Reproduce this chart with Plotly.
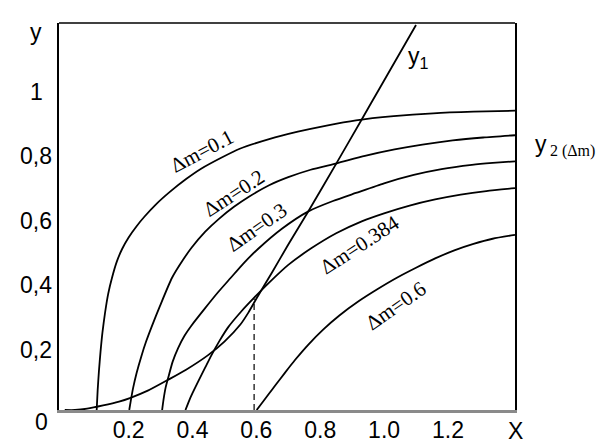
import plotly.graph_objects as go

# ---- data ----
x_d01 = [0.100, 0.103, 0.107, 0.112, 0.118, 0.126, 0.136, 0.148, 0.163, 0.180, 0.200, 0.225, 0.250,
         0.285, 0.330, 0.380, 0.427, 0.490, 0.548, 0.640, 0.730, 0.820, 0.912, 1.030, 1.154, 1.280, 1.410]
y_d01 = [0.0, 0.06, 0.12, 0.18, 0.24, 0.30, 0.36, 0.41, 0.46, 0.50, 0.535, 0.57, 0.60,
         0.637, 0.677, 0.716, 0.748, 0.782, 0.81, 0.84, 0.863, 0.882, 0.898, 0.911, 0.92, 0.925, 0.928]

x_d02 = [0.202, 0.207, 0.214, 0.225, 0.240, 0.255, 0.272, 0.298, 0.336, 0.370, 0.397, 0.440, 0.482,
         0.530, 0.578, 0.640, 0.700, 0.770, 0.852, 0.940, 1.033, 1.120, 1.215, 1.310, 1.410]
y_d02 = [0.0, 0.03, 0.068, 0.115, 0.167, 0.213, 0.258, 0.322, 0.41, 0.465, 0.503, 0.553, 0.592,
         0.63, 0.662, 0.697, 0.722, 0.745, 0.765, 0.788, 0.808, 0.823, 0.836, 0.845, 0.852]

x_d03 = [0.305, 0.309, 0.316, 0.324, 0.338, 0.355, 0.375, 0.397, 0.439, 0.480, 0.520, 0.560, 0.606,
         0.680, 0.763, 0.840, 0.912, 1.000, 1.093, 1.180, 1.275, 1.340, 1.410]
y_d03 = [0.0, 0.03, 0.07, 0.10, 0.15, 0.192, 0.23, 0.262, 0.315, 0.365, 0.41, 0.455, 0.50,
         0.562, 0.616, 0.648, 0.673, 0.703, 0.729, 0.747, 0.76, 0.766, 0.771]

x_d0384 = [0.378, 0.390, 0.400, 0.418, 0.440, 0.460, 0.485, 0.512, 0.554, 0.591, 0.640, 0.700, 0.773,
           0.850, 0.930, 1.000, 1.080, 1.160, 1.240, 1.320, 1.410]
y_d0384 = [0.0, 0.03, 0.052, 0.089, 0.132, 0.171, 0.215, 0.257, 0.307, 0.346, 0.395, 0.45, 0.502,
           0.548, 0.585, 0.61, 0.634, 0.653, 0.668, 0.679, 0.688]

x_d06 = [0.601, 0.620, 0.640, 0.659, 0.690, 0.721, 0.763, 0.810, 0.860, 0.920, 0.980, 1.040, 1.100,
         1.160, 1.220, 1.280, 1.340, 1.410]
y_d06 = [0.0, 0.025, 0.051, 0.076, 0.116, 0.155, 0.203, 0.25, 0.293, 0.337, 0.375, 0.41, 0.441,
         0.47, 0.495, 0.515, 0.531, 0.543]

x_y1 = [0.0, 0.032, 0.070, 0.120, 0.170, 0.204, 0.260, 0.324, 0.380, 0.450, 0.500, 0.550, 0.575,
        0.600, 0.650, 0.700, 0.763, 0.852, 0.930, 0.988, 1.100]
y_y1 = [0.0, 0.0, 0.004, 0.014, 0.026, 0.037, 0.06, 0.094, 0.125, 0.171, 0.212, 0.265, 0.302,
        0.345, 0.428, 0.513, 0.616, 0.767, 0.901, 1.001, 1.194]

x_dash = [0.593, 0.593]
y_dash = [0.0, 0.346]

curve_labels = ["Δm=0.1", "Δm=0.2", "Δm=0.3", "Δm=0.384", "Δm=0.6"]
label_x = [0.431, 0.531, 0.603, 0.923, 1.036]
label_y = [0.803, 0.672, 0.566, 0.512, 0.322]
label_angle = [-28, -33, -35, -33, -35]

xtick_vals = [0.2, 0.4, 0.6, 0.8, 1.0, 1.2]
xtick_text = ["0.2", "0.4", "0.6", "0.8", "1.0", "1.2"]
ytick_vals = [0.2, 0.4, 0.6, 0.8, 1.0]
ytick_text = ["0,2", "0,4", "0,6", "0,8", "1"]

SANS = "Liberation Sans, Arial, sans-serif"
SERIF = "Liberation Serif, Times New Roman, serif"

fig = go.Figure()
line_style = dict(color="black", width=1.8, shape="spline", smoothing=0.6)
for xs, ys in [(x_d01, y_d01), (x_d02, y_d02), (x_d03, y_d03), (x_d0384, y_d0384), (x_d06, y_d06), (x_y1, y_y1)]:
    fig.add_trace(go.Scatter(x=xs, y=ys, mode="lines", line=line_style, hoverinfo="skip", showlegend=False))
fig.add_trace(go.Scatter(x=x_dash, y=y_dash, mode="lines",
                         line=dict(color="black", width=1.2, dash="6px,4px"),
                         hoverinfo="skip", showlegend=False))

annotations = []
for t, lx, ly, a in zip(curve_labels, label_x, label_y, label_angle):
    annotations.append(dict(x=lx, y=ly, xref="x", yref="y", text=t, textangle=a,
                            showarrow=False, font=dict(family=SERIF, size=21, color="black")))
for v, t in zip(ytick_vals, ytick_text):
    annotations.append(dict(x=-0.05, y=v, xref="paper", yref="y", text=t, showarrow=False,
                            xanchor="center", yanchor="middle", yshift=-4,
                            font=dict(family=SANS, size=23, color="black")))
annotations += [
    dict(x=-0.05, y=0.977, xref="paper", yref="paper", text="y", showarrow=False,
         xanchor="center", yanchor="middle", font=dict(family=SANS, size=23, color="black")),
    dict(x=-0.039, y=-0.030, xref="paper", yref="paper", text="0", showarrow=False,
         xanchor="center", yanchor="middle", font=dict(family=SANS, size=23, color="black")),
    dict(x=1.0, y=-0.053, xref="paper", yref="paper", text="X", showarrow=False,
         xanchor="center", yanchor="middle", font=dict(family=SANS, size=23, color="black")),
    dict(x=0.762, y=0.91, xref="paper", yref="paper", text="y<sub>1</sub>", showarrow=False,
         xanchor="left", yanchor="middle", font=dict(family=SANS, size=23, color="black")),
    dict(x=1.040, y=0.688, xref="paper", yref="paper", text="y", showarrow=False,
         xanchor="left", yanchor="middle", font=dict(family=SANS, size=23, color="black")),
    dict(x=1.073, y=0.669, xref="paper", yref="paper", text="2 (Δm)", showarrow=False,
         xanchor="left", yanchor="middle", font=dict(family=SERIF, size=16, color="black")),
]

fig.update_layout(
    width=607, height=442,
    margin=dict(l=51, r=100, t=15, b=40),
    paper_bgcolor="white", plot_bgcolor="white",
    annotations=annotations,
    shapes=[dict(type="line", xref="paper", yref="paper", x0=0, x1=1, y0=1, y1=1,
                 line=dict(color="black", width=1.5))],
    xaxis=dict(range=[-0.018, 1.41], showgrid=False, zeroline=False, automargin=False,
               showline=True, linecolor="#8a8a8a", linewidth=3,
               tickvals=xtick_vals, ticktext=xtick_text, ticks="", ticklabelstandoff=-3,
               tickfont=dict(family=SANS, size=23, color="black")),
    yaxis=dict(range=[0, 1.2], showgrid=False, zeroline=False, automargin=False,
               showline=True, linecolor="black", linewidth=2, mirror=True,
               showticklabels=False, ticks=""),
)

fig.write_html("out.html")
